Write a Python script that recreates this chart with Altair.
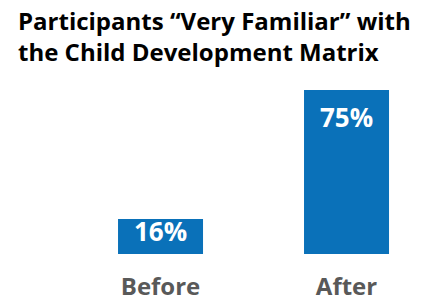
import altair as alt
import pandas as pd

categories = ["Before", "After"]
values = [16, 75]
labels = ["16%", "75%"]

df = pd.DataFrame({"cat": categories, "val": values, "lab": labels})

FONT = "Open Sans"
BLUE = "#0a71b9"

x = alt.X("cat:N", sort=categories,
          scale=alt.Scale(paddingInner=0.543, paddingOuter=0.3656, align=0.809),
          axis=alt.Axis(title=None, domain=False, ticks=False, labelAngle=0,
                        labelFont=FONT, labelFontSize=24, labelFontWeight="bold",
                        labelColor="#595959", labelPadding=21))
y = alt.Y("val:Q", scale=alt.Scale(domain=[0, 75], nice=False), axis=None)

base = alt.Chart(df)
bars = base.mark_bar(color=BLUE).encode(x=x, y=y)
t1 = base.transform_filter(alt.datum.cat == "Before").mark_text(
    font=FONT, fontSize=26, fontWeight="bold", color="white", baseline="alphabetic", dy=22
).encode(x=x, y=y, text="lab:N")
t2 = base.transform_filter(alt.datum.cat == "After").mark_text(
    font=FONT, fontSize=26, fontWeight="bold", color="white", baseline="alphabetic", dy=37
).encode(x=x, y=y, text="lab:N")

chart = alt.layer(bars, t1, t2).properties(
    width=407, height=164,
    title=alt.TitleParams(
        ["Participants \u201cVery Familiar\u201d with", "the Child Development Matrix"],
        anchor="start", frame="group", font=FONT, fontSize=24, fontWeight="bold",
        color="black", lineHeight=31, dx=10, offset=0, baseline="bottom"),
    autosize=alt.AutoSizeParams(type="none"),
    padding={"left": 0, "top": 82, "right": 0, "bottom": 45},
).configure_view(stroke=None)

chart.save("out.html", embed_options={"renderer": "svg", "actions": False})
